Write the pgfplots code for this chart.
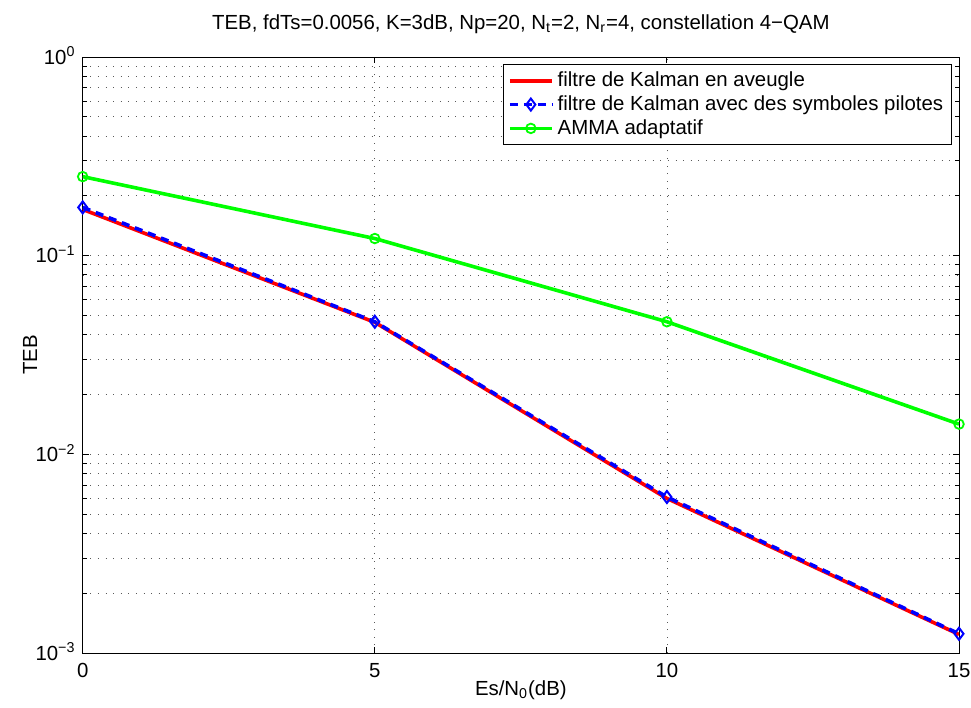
\documentclass[border=0pt]{standalone}
\usepackage{fontspec}
\setmainfont{Liberation Sans}
\usepackage{pgfplots}
\pgfplotsset{compat=1.18}
\newcommand{\f}{\fontsize{10.2}{12}\selectfont}
\begin{document}
\f
\begin{tikzpicture}
\begin{axis}[
  at={(0,0)}, anchor=south west,
  scale only axis,
  width=438.15pt, height=298pt,
  xmin=0, xmax=15,
  ymode=log, ymin=1e-3, ymax=1,
  xtick={0,5,10,15},
  ytick={1e-3,1e-2,1e-1,1},
  yticklabels={10\textsuperscript{−3},10\textsuperscript{−2},10\textsuperscript{−1},10\textsuperscript{0}},
  /pgf/number format/assume math mode=true,
  tick align=inside,
  major tick length=3pt,
  minor tick length=2pt,
  xtick pos=both, ytick pos=both,
  xmajorgrids, ymajorgrids, yminorgrids,
  major grid style={dash pattern=on 0.5pt off 3.3pt, black!65, line width=0.4pt},
  minor grid style={dash pattern=on 0.5pt off 3.3pt, black!65, line width=0.4pt},
  axis line style={black, line width=0.5pt},
  tick style={black, line width=0.5pt},
  tick label style={font=\f},
  xticklabel style={yshift=-1.5pt},
  yticklabel style={anchor=base east, yshift=-3.6pt},
  label style={font=\f},
  xlabel={Es/N\textsubscript{0}(dB)},
  xlabel style={at={(axis description cs:0.5,-0.0705)}, anchor=base},
  ylabel={TEB},
  ylabel style={at={(axis description cs:-0.0601,0.5)}, anchor=center},
  title={TEB, fdTs=0.0056, K=3dB, Np=20, N\textsubscript{t}=2, N\textsubscript{r}=4, constellation 4−QAM},
  title style={font=\f, at={(axis description cs:0.5,1.0495)}, anchor=base, yshift=-6.8pt},
  legend style={at={(1,1)}, anchor=north east, xshift=-3.65pt, yshift=-3.65pt,
    draw=black, line width=0.5pt, fill=white, font=\f,
    inner xsep=2pt, inner ysep=1.5pt, row sep=-1pt},
  legend cell align=left,
  legend image code/.code={\draw[mark repeat=2,mark phase=2,#1] plot coordinates {(0cm,0cm)(0.37cm,0cm)(0.74cm,0cm)};},
]
\addplot[red, line width=1.8pt] coordinates {(0,0.171)(5,0.0462)(10,0.0060)(15,0.00124)};
\addlegendentry{filtre de Kalman en aveugle}
\addplot[blue, line width=1.8pt, dash pattern=on 4pt off 3pt, mark=diamond, mark size=3pt, mark options={solid, line width=1pt, fill=none}] coordinates {(0,0.175)(5,0.0465)(10,0.0061)(15,0.00125)};
\addlegendentry{filtre de Kalman avec des symboles pilotes}
\addplot[green, line width=1.8pt, mark=o, mark size=2.4pt, mark options={solid, line width=0.9pt, fill=none}] coordinates {(0,0.25)(5,0.122)(10,0.0465)(15,0.0142)};
\addlegendentry{AMMA adaptatif}
\end{axis}
\pgfresetboundingbox
\path ([xshift=-41.35pt,yshift=-27pt]current axis.south west) rectangle ([xshift=6pt,yshift=28.5pt]current axis.north east);
\end{tikzpicture}
\end{document}
